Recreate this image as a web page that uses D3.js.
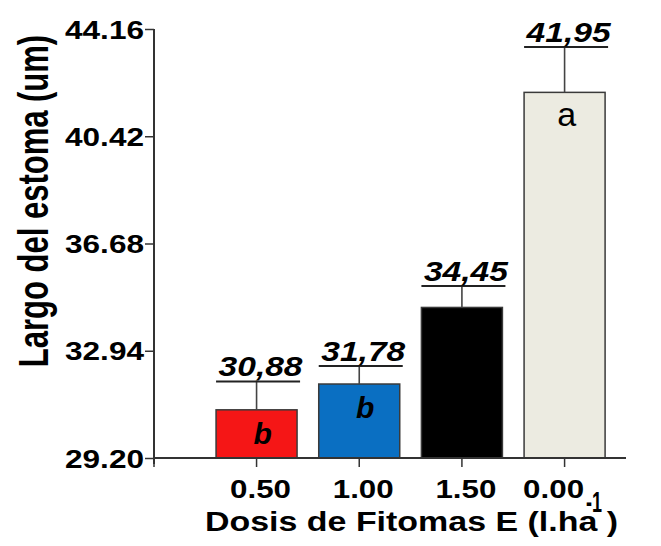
<!DOCTYPE html>
<html>
<head>
<meta charset="utf-8">
<script src="https://cdn.jsdelivr.net/npm/d3@7"></script>
<style>
  html, body { margin: 0; padding: 0; background: #fff; }
  svg { display: block; }
  text { font-family: "Liberation Sans", Arial, sans-serif; fill: #000; }
</style>
</head>
<body>
<svg id="chart" width="661" height="546"></svg>
<script>
// ---- data ----
const categories = ["0.50", "1.00", "1.50", "0.00"];
const means = [30.88, 31.78, 34.45, 41.95];
const errors = [0.99, 0.63, 0.75, 1.58];
const valueLabels = ["30,88", "31,78", "34,45", "41,95"];
const letters = ["b", "b", "", "a"];
const colors = ["#f51616", "#0a6fc2", "#000000", "#ecebe1"];
const yTicks = [29.20, 32.94, 36.68, 40.42, 44.16];
const yTitle = "Largo del estoma (um)";
const xTitle = "Dosis de Fitomas E (l.ha )";
const xTitleSup = "-1";

// ---- drawing ----
const svg = d3.select("#chart");
const axisColor = "#333";

const y = d3.scaleLinear().domain([29.20, 44.16]).range([458, 29]);
const x = d3.scaleBand().domain(categories).range([154, 626])
  .paddingInner(0.211).paddingOuter(0.404).align(0.748);
const bw = x.bandwidth();

const data = categories.map((c, i) => ({
  c, v: means[i], e: errors[i], lab: valueLabels[i], let: letters[i], col: colors[i]
}));

// bars
svg.append("g").selectAll("rect").data(data).join("rect")
  .attr("x", d => x(d.c))
  .attr("y", d => y(d.v))
  .attr("width", bw)
  .attr("height", d => y(29.20) - y(d.v))
  .attr("fill", d => d.col)
  .attr("stroke", "#3a3a3a")
  .attr("stroke-width", 1.5);

// error bars (vertical)
svg.append("g").selectAll("line").data(data).join("line")
  .attr("x1", d => x(d.c) + bw / 2)
  .attr("x2", d => x(d.c) + bw / 2)
  .attr("y1", d => y(d.v))
  .attr("y2", d => y(d.v + d.e))
  .attr("stroke", "#444")
  .attr("stroke-width", 1.6);

// caps / underlines
svg.append("g").selectAll("line").data(data).join("line")
  .attr("x1", d => x(d.c))
  .attr("x2", d => x(d.c) + bw + 3)
  .attr("y1", d => y(d.v + d.e))
  .attr("y2", d => y(d.v + d.e))
  .attr("stroke", "#222")
  .attr("stroke-width", 2);

// value labels
svg.append("g").selectAll("text").data(data).join("text")
  .attr("x", d => x(d.c) + bw / 2 + 4)
  .attr("y", d => y(d.v + d.e) - 5)
  .attr("text-anchor", "middle")
  .style("font-size", "28px")
  .style("font-weight", "bold")
  .style("font-style", "italic")
  .attr("textLength", 84)
  .attr("lengthAdjust", "spacingAndGlyphs")
  .text(d => d.lab);

// letters inside bars
svg.append("g").selectAll("text").data(data.filter(d => d.let)).join("text")
  .attr("x", d => x(d.c) + bw / 2 + (d.let === "a" ? 2 : 6))
  .attr("y", d => y(d.v) + 34)
  .attr("text-anchor", "middle")
  .style("font-size", d => d.let === "a" ? "34px" : "30px")
  .style("font-weight", d => d.let === "a" ? "normal" : "bold")
  .style("font-style", d => d.let === "a" ? "normal" : "italic")
  .text(d => d.let);

// y axis
const yAxis = d3.axisLeft(y).tickValues(yTicks).tickSize(9).tickSizeOuter(0)
  .tickFormat(d3.format(".2f"));
const gy = svg.append("g").attr("transform", "translate(154,0)").call(yAxis);
gy.select(".domain").attr("stroke", axisColor).attr("stroke-width", 2)
  .attr("d", `M0,${y(44.16)}V${y(29.20) + 6}`);
gy.selectAll(".tick line").attr("stroke", axisColor).attr("stroke-width", 1.5);
gy.selectAll(".tick text")
  .attr("x", -10).attr("dy", null).attr("y", 9)
  .attr("font-family", null)
  .style("font-size", "25px")
  .style("font-weight", "bold")
  .attr("fill", "#000")
  .attr("textLength", 79)
  .attr("lengthAdjust", "spacingAndGlyphs");

// x axis
const labelShift = [4, 4, 4, -11];
const xAxis = d3.axisBottom(x).tickSize(9).tickSizeOuter(0);
const gx = svg.append("g").attr("transform", `translate(0,${y(29.20)})`).call(xAxis);
gx.select(".domain").attr("stroke", axisColor).attr("stroke-width", 2)
  .attr("d", "M154,0H626");
gx.selectAll(".tick line").attr("stroke", axisColor).attr("stroke-width", 1.5);
gx.append("line").attr("x1", 154).attr("x2", 154).attr("y1", 0).attr("y2", 9)
  .attr("stroke", axisColor).attr("stroke-width", 1.5);
gx.selectAll(".tick text")
  .attr("x", (d, i) => labelShift[i]).attr("dy", null).attr("y", 40)
  .attr("font-family", null)
  .style("font-size", "25px")
  .style("font-weight", "bold")
  .attr("fill", "#000")
  .attr("textLength", 61)
  .attr("lengthAdjust", "spacingAndGlyphs");

// x title
svg.append("text")
  .attr("x", 205).attr("y", 531)
  .style("font-size", "27px")
  .style("font-weight", "bold")
  .attr("textLength", 413)
  .attr("lengthAdjust", "spacingAndGlyphs")
  .text(xTitle);
svg.append("text")
  .attr("x", 586).attr("y", 512)
  .style("font-size", "29px")
  .style("font-weight", "bold")
  .attr("textLength", 16)
  .attr("lengthAdjust", "spacingAndGlyphs")
  .text(xTitleSup);

// y title (stretched across its glyph height, as in the original)
svg.append("text")
  .attr("transform", "translate(48,201) scale(1.35,1) rotate(-90)")
  .attr("text-anchor", "middle")
  .style("font-size", "31px")
  .style("font-weight", "bold")
  .text(yTitle);
</script>
</body>
</html>
